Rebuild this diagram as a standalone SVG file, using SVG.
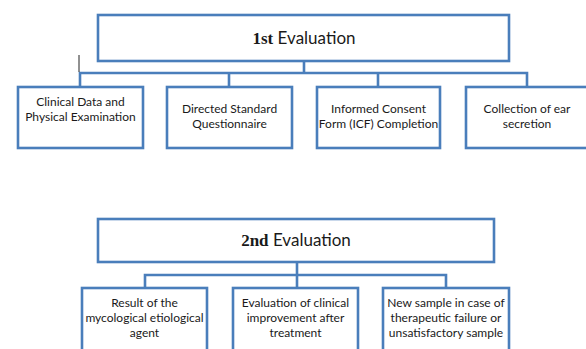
<svg xmlns="http://www.w3.org/2000/svg" width="586" height="349" viewBox="0 0 586 349">
<style>
.box{fill:#fff;stroke:#4a7ebb;stroke-width:2.6}
.con{fill:none;stroke:#4a7ebb;stroke-width:2.6}
.t{font-family:Lato,"Open Sans","Liberation Sans",sans-serif;font-size:12px;fill:#1a1a1a;text-anchor:middle}
.h{font-family:Lato,"Open Sans","Liberation Sans",sans-serif;font-size:17px;fill:#1a1a1a;text-anchor:middle}
.b{font-family:"Liberation Serif",serif;font-weight:bold}
</style>
<rect width="586" height="349" fill="#fff"/>
<g id="connectors">
<path class="con" d="M304 61V73M80 87V73H527V87M229 73V87M378 73V87"/>
<path class="con" d="M297 262V275M145 288V275H446V288M297 275V288"/>
<line x1="79" y1="55" x2="79" y2="72" stroke="#222" stroke-width="1"/>
</g>
<g id="eval1">
<rect class="box" x="98" y="15" width="411" height="46"/>
<text class="h" x="304" y="44"><tspan class="b">1st</tspan> Evaluation</text>
</g>
<g id="clinical">
<rect class="box" x="18" y="87" width="125" height="61"/>
<text class="t" x="80.5" y="106">Clinical Data and</text>
<text class="t" x="80.5" y="121">Physical Examination</text>
</g>
<g id="questionnaire">
<rect class="box" x="167" y="87" width="125" height="61"/>
<text class="t" x="229.5" y="113">Directed Standard</text>
<text class="t" x="229.5" y="128">Questionnaire</text>
</g>
<g id="icf">
<rect class="box" x="317" y="87" width="123" height="61"/>
<text class="t" x="378.5" y="113">Informed Consent</text>
<text class="t" x="378.5" y="128">Form (ICF) Completion</text>
</g>
<g id="ear">
<rect class="box" x="466" y="87" width="124" height="61"/>
<text class="t" x="527" y="113">Collection of ear</text>
<text class="t" x="527" y="128">secretion</text>
</g>
<g id="eval2">
<rect class="box" x="98" y="219" width="396" height="43"/>
<text class="h" x="296" y="246"><tspan class="b">2nd</tspan> Evaluation</text>
</g>
<g id="result">
<rect class="box" x="82" y="288" width="125" height="66"/>
<text class="t" x="144.5" y="307">Result of the</text>
<text class="t" x="144.5" y="322">mycological etiological</text>
<text class="t" x="144.5" y="337">agent</text>
</g>
<g id="improvement">
<rect class="box" x="233" y="288" width="125" height="66"/>
<text class="t" x="295.5" y="307">Evaluation of clinical</text>
<text class="t" x="295.5" y="322">improvement after</text>
<text class="t" x="295.5" y="337">treatment</text>
</g>
<g id="newsample">
<rect class="box" x="383" y="288" width="126" height="66"/>
<text class="t" x="446" y="307">New sample in case of</text>
<text class="t" x="446" y="322">therapeutic failure or</text>
<text class="t" x="446" y="337">unsatisfactory sample</text>
</g>
</svg>
